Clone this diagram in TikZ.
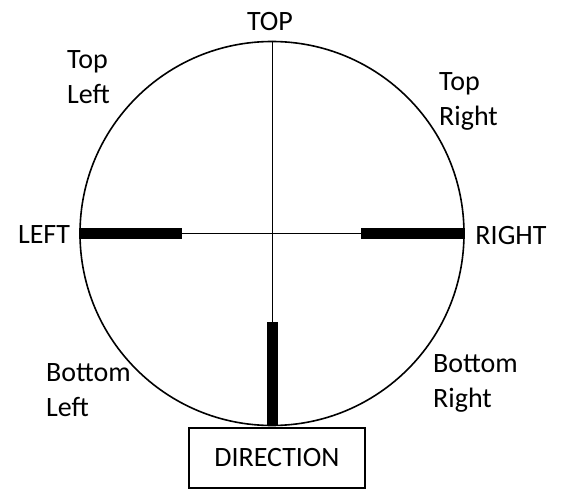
\documentclass[tikz,border=0pt]{standalone}
\usepackage{fontspec}
\setmainfont{Carlito}
\begin{document}
\begin{tikzpicture}[x=1pt,y=-1pt,
  lbl/.style={font=\fontsize{28}{35}\selectfont, inner sep=0pt},
  multi/.style={lbl, align=left, anchor=north west},
  bar/.style={line width=11pt, line cap=butt},
  thin/.style={line width=1pt}]
\useasboundingbox (0,0) rectangle (566,489);
\node[circle, draw, line width=1.6pt, minimum size=384pt, inner sep=0pt] (scope) at (272,233.5) {};
% cross hair
\draw[thin] (scope.north) -- (scope.south);
\draw[thin] (scope.west) -- (scope.east);
% thick bars
\draw[bar] (scope.west) -- ++(103,0);
\draw[bar] (scope.east) -- ++(-104,0);
\draw[bar] (scope.south) -- ++(0,-104);
% labels
\node[lbl] (top) at (270,22) {TOP};
\node[lbl] (left) at (44,235) {LEFT};
\node[lbl] (right) at (511,236) {RIGHT};
\node[multi] (tl) at (67,50) {Top\\Left};
\node[multi] (tr) at (439,72) {Top\\Right};
\node[multi] (bl) at (46,363) {Bottom\\Left};
\node[multi] (br) at (433,354) {Bottom\\Right};
\node[draw, line width=1.2pt, minimum width=176pt, minimum height=60pt, font=\fontsize{28}{35}\selectfont] (dir) at (277,458) {DIRECTION};
\end{tikzpicture}
\end{document}
